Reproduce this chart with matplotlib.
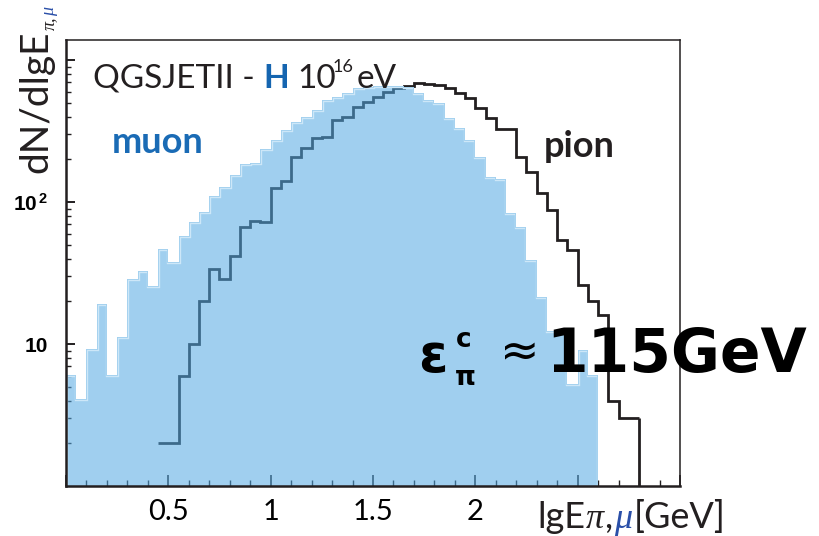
import numpy as np
import matplotlib.pyplot as plt
from matplotlib.transforms import IdentityTransform
from matplotlib.ticker import FixedLocator, MultipleLocator, LogLocator, NullFormatter

W, H = 820, 536
plt.rcParams['mathtext.fontset'] = 'custom'
plt.rcParams['mathtext.bf'] = 'Liberation Sans:bold'
plt.rcParams['mathtext.rm'] = 'Liberation Sans'

# 60 bins of 0.05 in lgE from 0 to 3
edges = np.round(np.arange(0, 3.0001, 0.05), 2)
muon = [6.1, 4.1, 9.2, 19.2, 6.1, 11.2, 28.7, 33, 25.5, 47,
        38, 58, 73, 85, 111, 129, 155, 185, 190, 236,
        275, 323, 370, 401, 447, 525, 554, 586, 635, 652,
        658, 660, 658, 652, 586, 525, 498, 391, 332, 275,
        207, 151, 145, 84, 67, 39, 21.6, 12.3, 12.3, 5.2,
        9.1, 6.1, 0, 0, 0, 0, 0, 0, 0, 0]
pion = [0] * 9 + [2, 2, 6, 10, 20, 34, 28.7, 42, 67, 74,
                  72, 126, 140, 209, 240, 282, 290, 380, 401, 471,
                  511, 554, 601, 635, 658, 695, 681, 670, 635, 586,
                  540, 459, 391, 327, 327, 209, 164, 116, 88, 54,
                  46, 26, 20, 16, 4, 3, 3] + [0] * 4
xticks = [0, 0.5, 1, 1.5, 2, 2.5, 3]
xticklabels = ['', '0.5', '1', '1.5', '2', '', '']
yticks = [10, 100, 1000]
yticklabels = ['10', r'$\mathbf{10^{\,2}}$', '']

m = np.array(muon)
p = np.array(pion)
nz = np.nonzero(m)[0]
m0, m1 = nz[0], nz[-1] + 1
nz = np.nonzero(p)[0]
p0, p1 = nz[0], nz[-1] + 1
ymin, ymax = 1, 1390

fig = plt.figure(figsize=(W / 100, H / 100), dpi=100)
ax = fig.add_axes([66 / W, 1 - 486 / H, (680 - 66) / W, (486 - 40) / H])
ax.set_yscale('log')
ax.set_xlim(0, 3)
ax.set_ylim(ymin, ymax)

# pion line (under the translucent muon fill)
ax.stairs(p[p0:p1], edges[p0:p1 + 1], baseline=None, color='#231f20', lw=2.0, zorder=2)
ax.vlines(edges[p1], ymin, p[p1 - 1], color='#231f20', lw=2.0, zorder=2)

# muon fill + inner light outline
fill = ax.stairs(m[m0:m1], edges[m0:m1 + 1], baseline=ymin, fill=True,
                 color='#52a9e3', alpha=0.55, lw=0, zorder=3)
light = ax.stairs(m[m0:m1], edges[m0:m1 + 1], baseline=ymin, color='#cde7f8', lw=2.4, zorder=3.1)
light.set_clip_path(fill)
band = ax.stairs(m[m0:m1], edges[m0:m1 + 1], baseline=ymin, color='#a2d0ef', lw=1.3, zorder=3.2)
band.set_clip_path(fill)

# axes styling
for name, s in ax.spines.items():
    s.set_zorder(5)
    s.set_color('#231f20')
    s.set_linewidth(1.8 if name in ('left', 'bottom') else 1.1)

ax.xaxis.set_major_locator(FixedLocator(xticks))
ax.set_xticklabels(xticklabels)
ax.xaxis.set_minor_locator(MultipleLocator(0.1))
ax.yaxis.set_major_locator(FixedLocator(yticks))
ax.set_yticklabels(yticklabels)
ax.yaxis.set_minor_locator(LogLocator(base=10, subs=np.arange(2, 10)))
ax.yaxis.set_minor_formatter(NullFormatter())

ax.tick_params(which='both', direction='in', top=False, right=False, color='#231f20')
ax.tick_params(axis='x', which='major', length=8, width=1.2, pad=9, labelsize=21)
ax.tick_params(axis='x', which='minor', length=4, width=1.0)
ax.tick_params(axis='y', which='major', length=6.5, width=1.4, pad=13, labelsize=15)
ax.tick_params(axis='y', which='minor', length=3.5, width=1.0)
for t in ax.get_xticklabels():
    t.set_fontfamily('Lato')
for t in ax.get_yticklabels():
    t.set_fontfamily('Liberation Sans')
    t.set_fontweight('bold')

renderer = fig.canvas.get_renderer()


def put(x, y, s, **kw):
    # x, y in image pixels (origin top-left), baseline anchored
    kw.setdefault('family', 'Lato')
    kw.setdefault('color', '#231f20')
    return fig.text(x, H - y, s, transform=IdentityTransform(), ha='left', va='baseline',
                    rotation_mode='anchor', **kw)


def chain(x, y, parts, vertical=False):
    # lay pieces one after another; each part is (text, gap, shift, kwargs)
    for s, gap, shift, kw in parts:
        if vertical:
            y -= gap
            t = put(x + shift, y, s, rotation=90, **kw)
            y -= t.get_window_extent(renderer).height
        else:
            x += gap
            t = put(x, y - shift, s, **kw)
            x += t.get_window_extent(renderer).width


# title
put(93, 88, 'QGSJETII -', size=24)
put(263, 88, 'H', size=24, weight='bold', color='#1565b0')
put(297, 88, '10', size=24)
put(333, 72, '16', size=13)
put(357, 88, 'eV', size=24)

put(112, 153, 'muon', size=26, weight='bold', color='#1a6bb5')
put(544, 157, 'pion', size=26, weight='bold')

# critical energy
put(418, 372, 'ε', size=38, weight='bold', family='DejaVu Sans', color='black')
put(456, 347, 'c', size=19, weight='bold', family='DejaVu Sans', color='black')
put(455, 385, 'π', size=19, weight='bold', family='DejaVu Sans', color='black')
put(500, 366, '≈', size=34, family='DejaVu Sans', color='black')
put(546, 372, '115GeV', size=43, weight='bold', family='DejaVu Sans', color='black')

# y label
chain(47, 173, [('dN/dlgE', 0, 0, dict(size=28)),
                ('π,', 0, 7, dict(size=13, family='Liberation Serif', style='italic')),
                ('μ', 1, 7, dict(size=13, family='Liberation Serif', style='italic', color='#2a4fa8'))],
      vertical=True)

# x label
chain(537, 528, [('lgE', 0, 0, dict(size=26)),
                 ('π', 1, 0, dict(size=26, family='Liberation Serif', style='italic')),
                 (',', 0, 0, dict(size=26)),
                 ('μ', 2, 0, dict(size=26, family='Liberation Serif', style='italic', color='#2a4fa8')),
                 ('[GeV]', 1, 0, dict(size=26))])

fig.savefig('out.png', dpi=100)
